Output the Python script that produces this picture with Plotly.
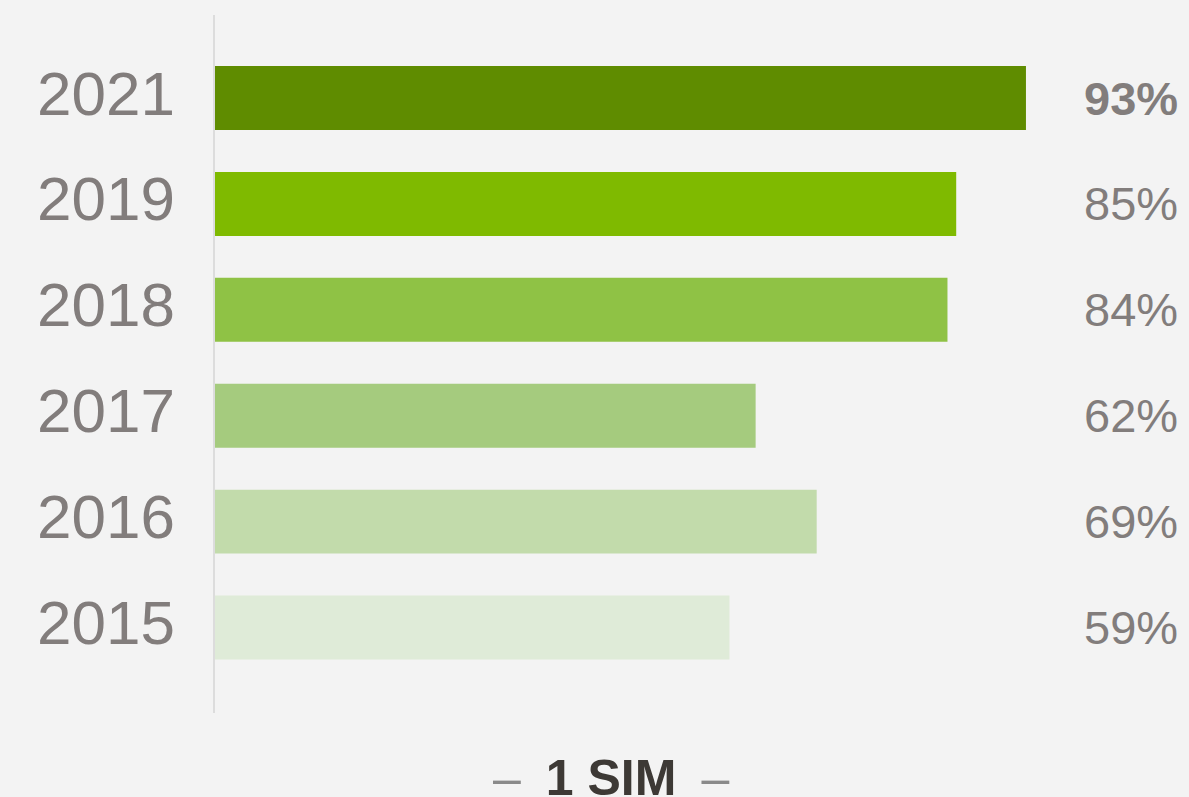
import plotly.graph_objects as go

years = ["2015", "2016", "2017", "2018", "2019", "2021"]
values = [59, 69, 62, 84, 85, 93]
colors = ["#dfebd8", "#c2dbab", "#a5cb7e", "#8fc245", "#7fba00", "#5f8c00"]
label_bold = [False, False, False, False, False, True]
title_text = "1 SIM"

W, H = 1189, 797
x0_px = 215
px_per_pct = 8.72
positions = list(range(len(years)))

fig = go.Figure()
fig.add_trace(go.Bar(
    x=values, y=positions, orientation="h",
    marker=dict(color=colors, line=dict(width=0)),
    width=0.604, hoverinfo="skip",
))

gray = "#827d7c"
font_fam = "Liberation Sans, Arial"
for p, v, b in zip(positions, values, label_bold):
    txt = f"{v}%"
    if b:
        txt = f"<b>{txt}</b>"
    fig.add_annotation(
        x=1180 / W, xref="paper", y=p, yref="y",
        text=txt, showarrow=False, xanchor="right", yanchor="middle",
        font=dict(size=47, color=gray, family=font_fam),
    )

for p, yr in zip(positions, years):
    fig.add_annotation(
        x=177 / W, xref="paper", y=p, yref="y", yshift=5,
        text=yr, showarrow=False, xanchor="right", yanchor="middle",
        font=dict(size=62, color=gray, family=font_fam),
    )

sp = "\u2002"
fig.add_annotation(
    x=610.5 / W, xref="paper", y=21 / H, yref="paper", yshift=-2,
    text=f"<span style='color:#8a8a8a'>–</span>{sp}<b>{title_text}</b>{sp}<span style='color:#8a8a8a'>–</span>",
    showarrow=False, xanchor="center", yanchor="middle",
    font=dict(size=50, color="#3d3935", family=font_fam),
)

fig.update_layout(
    width=W, height=H,
    margin=dict(l=0, r=0, t=0, b=0),
    paper_bgcolor="#f3f3f3", plot_bgcolor="#f3f3f3",
    showlegend=False,
    xaxis=dict(
        domain=[x0_px / W, 1], range=[0, (W - x0_px) / px_per_pct],
        showgrid=False, zeroline=False, showticklabels=False, showline=False,
    ),
    yaxis=dict(
        domain=[1 - 713 / H, 1 - 15 / H], range=[-0.807, 5.784],
        showticklabels=False, ticks="",
        showgrid=False, zeroline=False,
        showline=True, linecolor="#dcdcdc", linewidth=2,
    ),
)

fig.write_html(
    "out.html",
    config={"displayModeBar": False},
    post_script="document.body.style.margin='0';document.body.style.background='#f3f3f3';",
)
